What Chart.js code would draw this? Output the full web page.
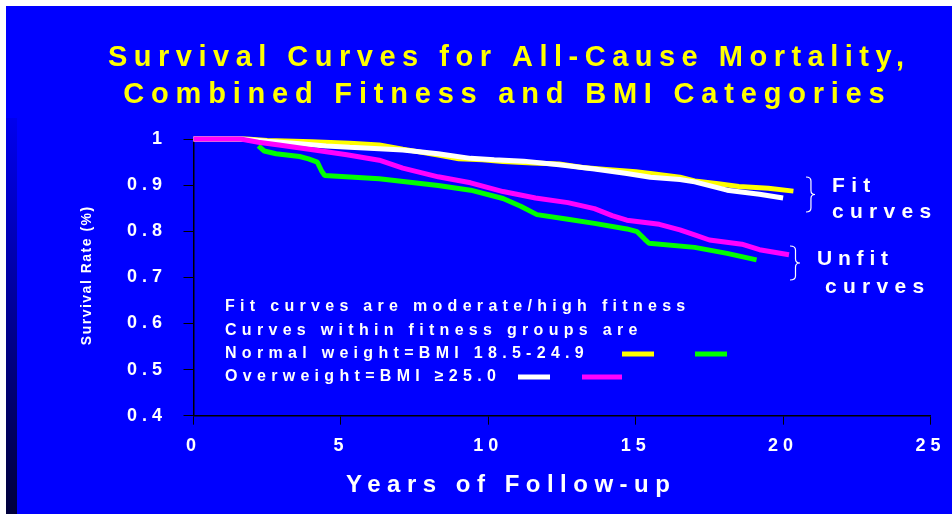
<!DOCTYPE html>
<html>
<head>
<meta charset="utf-8">
<style>
  html, body { margin: 0; padding: 0; background: #ffffff; overflow: hidden; }
  #wrap { position: relative; width: 952px; height: 514px; }
  canvas { display: block; }
</style>
<script src="https://cdn.jsdelivr.net/npm/chart.js@4/dist/chart.umd.min.js"></script>
</head>
<body>
<div id="wrap"><canvas id="chart" width="952" height="514"></canvas></div>
<script>
const FONT = '"Liberation Sans", Arial, Helvetica, sans-serif';

// Text
const titleLines = ['Survival Curves for All-Cause Mortality,', 'Combined Fitness and BMI Categories'];
const xAxisTitle = 'Years of Follow-up';
const yAxisTitle = 'Survival Rate (%)';
const legendNotes = [
  'Fit curves are moderate/high fitness',
  'Curves within fitness groups are',
  'Normal weight=BMI 18.5-24.9',
  'Overweight=BMI \u226525.0'
];
const fitGroupLabel = ['Fit', 'curves'];
const unfitGroupLabel = ['Unfit', 'curves'];

// Axis ticks
const xTicks = [0, 5, 10, 15, 20, 25];
const yTicks = [0.4, 0.5, 0.6, 0.7, 0.8, 0.9, 1];

// Fit, normal weight (yellow)
const fitNormalYears    = [0, 1.8, 2.5, 4.0, 5.3, 6.3, 7.1, 8.3, 9.0, 9.8, 10.5, 11.5, 12.4, 13.2, 14.0, 15.0, 15.5, 16.5, 17.0, 17.8, 18.5, 19.5, 20.35];
const fitNormalSurvival = [1, 1, 0.997, 0.994, 0.991, 0.987, 0.978, 0.965, 0.957, 0.955, 0.951, 0.948, 0.946, 0.938, 0.934, 0.929, 0.925, 0.917, 0.909, 0.903, 0.897, 0.893, 0.887];

// Fit, overweight (white)
const fitOverYears    = [0, 1.6, 2.5, 3.5, 4.5, 5.3, 6.3, 7.1, 8.3, 9.4, 10.2, 11.2, 12.4, 13.6, 14.7, 15.5, 16.5, 17.0, 17.5, 18.1, 19.2, 20.0];
const fitOverSurvival = [1, 1, 0.995, 0.99, 0.985, 0.982, 0.979, 0.976, 0.968, 0.958, 0.955, 0.952, 0.944, 0.935, 0.925, 0.917, 0.912, 0.907, 0.899, 0.889, 0.880, 0.872];

// Unfit, normal weight (green)
const unfitNormalYears    = [2.2, 2.4, 2.8, 3.6, 3.9, 4.2, 4.35, 4.45, 6.3, 8.3, 9.4, 10.5, 11.1, 11.65, 12.7, 13.6, 14.7, 15.05, 15.3, 15.45, 17.0, 18.1, 19.1];
const unfitNormalSurvival = [0.985, 0.974, 0.968, 0.962, 0.957, 0.950, 0.930, 0.921, 0.914, 0.899, 0.889, 0.871, 0.854, 0.836, 0.826, 0.817, 0.805, 0.799, 0.783, 0.774, 0.765, 0.752, 0.738];

// Unfit, overweight (magenta)
const unfitOverYears    = [0, 1.6, 2.2, 2.9, 4.1, 5.2, 6.3, 7.1, 8.3, 9.4, 10.5, 11.6, 12.7, 13.6, 14.2, 14.7, 15.8, 16.5, 17.0, 17.5, 18.6, 19.2, 20.2];
const unfitOverSurvival = [1, 1, 0.993, 0.987, 0.976, 0.966, 0.954, 0.937, 0.918, 0.905, 0.886, 0.872, 0.862, 0.849, 0.834, 0.824, 0.815, 0.803, 0.792, 0.781, 0.772, 0.760, 0.749];

const COLORS = { fitNormal: '#ffff00', fitOver: '#ffffff', unfitNormal: '#00ff00', unfitOver: '#ff00ff' };

const toPoints = (xs, ys) => xs.map((x, i) => ({ x: x, y: ys[i] }));

function lineSet(label, xs, ys, color) {
  return {
    label: label,
    data: toPoints(xs, ys),
    borderColor: color,
    backgroundColor: color,
    borderWidth: 5,
    pointRadius: 0,
    pointHoverRadius: 0,
    tension: 0,
    fill: false,
    clip: false,
    borderJoinStyle: 'bevel',
    borderCapStyle: 'butt'
  };
}

// First dataset is painted last (on top)
const datasets = [
  lineSet('Unfit, overweight', unfitOverYears, unfitOverSurvival, COLORS.unfitOver),
  lineSet('Fit, overweight', fitOverYears, fitOverSurvival, COLORS.fitOver),
  lineSet('Unfit, normal weight', unfitNormalYears, unfitNormalSurvival, COLORS.unfitNormal),
  lineSet('Fit, normal weight', fitNormalYears, fitNormalSurvival, COLORS.fitNormal)
];

function spacedText(ctx, text, x, y, opts) {
  const spacing = opts.spacing || 0;
  ctx.save();
  ctx.font = opts.font;
  ctx.fillStyle = opts.color;
  ctx.letterSpacing = spacing + 'px';
  ctx.textBaseline = opts.baseline || 'middle';
  ctx.textAlign = 'left';
  const w = ctx.measureText(text).width - spacing;
  let sx = x;
  if (opts.align === 'center') sx = x - w / 2;
  else if (opts.align === 'right') sx = x - w;
  ctx.fillText(text, sx, y);
  ctx.restore();
}

function brace(ctx, x, top, bottom, depth) {
  const mid = (top + bottom) / 2;
  const a = depth * 0.55;
  ctx.beginPath();
  ctx.moveTo(x, top);
  ctx.quadraticCurveTo(x + a, top, x + a, top + 4);
  ctx.lineTo(x + a, mid - 4);
  ctx.quadraticCurveTo(x + a, mid, x + depth, mid);
  ctx.quadraticCurveTo(x + a, mid, x + a, mid + 4);
  ctx.lineTo(x + a, bottom - 4);
  ctx.quadraticCurveTo(x + a, bottom, x, bottom);
  ctx.stroke();
}

const slidePlugin = {
  id: 'slide',
  beforeDraw(chart) {
    const ctx = chart.ctx;
    ctx.save();
    ctx.fillStyle = '#ffffff';
    ctx.fillRect(0, 0, chart.width, chart.height);
    ctx.fillStyle = '#0000ff';
    ctx.fillRect(6, 6, chart.width - 6, chart.height - 6);
    const g = ctx.createLinearGradient(0, 118, 0, chart.height);
    g.addColorStop(0, '#0000ee');
    g.addColorStop(1, '#00003a');
    ctx.fillStyle = g;
    ctx.fillRect(6, 118, 11, chart.height - 118);
    ctx.restore();
    // tick labels are drawn letter-spaced
    ctx.letterSpacing = '5px';
  },
  beforeDatasetsDraw(chart) {
    chart.ctx.letterSpacing = '0px';
  },
  afterDraw(chart) {
    const ctx = chart.ctx;
    ctx.letterSpacing = '0px';

    // Title
    const tFont = 'bold 29px ' + FONT;
    spacedText(ctx, titleLines[0], 506, 58, { font: tFont, color: '#ffff00', spacing: 6.5, align: 'center' });
    spacedText(ctx, titleLines[1], 504, 95, { font: tFont, color: '#ffff00', spacing: 6.8, align: 'center' });

    // Axis titles
    spacedText(ctx, xAxisTitle, 508, 485, { font: 'bold 24px ' + FONT, color: '#ffffff', spacing: 6.5, align: 'center' });
    ctx.save();
    ctx.translate(87, 276);
    ctx.rotate(-Math.PI / 2);
    spacedText(ctx, yAxisTitle, 0, 0, { font: 'bold 14px ' + FONT, color: '#ffffff', spacing: 1.5, align: 'center' });
    ctx.restore();

    // Legend notes
    const nFont = 'bold 16px ' + FONT;
    const noteY = [307, 331, 354, 377];
    legendNotes.forEach((t, i) => spacedText(ctx, t, 225, noteY[i], { font: nFont, color: '#ffffff', spacing: 5.3 }));

    // Legend swatches use the dataset colours
    const swatches = [
      { color: COLORS.fitNormal, x0: 622, x1: 654, y: 354 },
      { color: COLORS.unfitNormal, x0: 695, x1: 727, y: 354 },
      { color: COLORS.fitOver, x0: 518, x1: 550, y: 377 },
      { color: COLORS.unfitOver, x0: 582, x1: 622, y: 377 }
    ];
    ctx.save();
    swatches.forEach(s => {
      ctx.fillStyle = s.color;
      ctx.fillRect(s.x0, s.y - 2.5, s.x1 - s.x0, 5);
    });
    ctx.restore();

    // Group braces and labels
    ctx.save();
    ctx.strokeStyle = '#ffffff';
    ctx.lineWidth = 1.2;
    brace(ctx, 806, 177, 212, 9);
    brace(ctx, 790, 246, 280, 10);
    ctx.restore();
    const gFont = 'bold 21px ' + FONT;
    spacedText(ctx, fitGroupLabel[0], 832, 186, { font: gFont, color: '#ffffff', spacing: 6.3 });
    spacedText(ctx, fitGroupLabel[1], 832, 212, { font: gFont, color: '#ffffff', spacing: 6.3 });
    spacedText(ctx, unfitGroupLabel[0], 817, 259, { font: gFont, color: '#ffffff', spacing: 5.8 });
    spacedText(ctx, unfitGroupLabel[1], 825, 287, { font: gFont, color: '#ffffff', spacing: 6.3 });
  }
};

new Chart(document.getElementById('chart'), {
  type: 'line',
  data: { datasets: datasets },
  plugins: [slidePlugin],
  options: {
    responsive: false,
    devicePixelRatio: 1,
    animation: false,
    events: [],
    layout: { padding: { left: 103.5, right: 21.5, top: 139, bottom: 38.3 } },
    plugins: { legend: { display: false }, tooltip: { enabled: false }, title: { display: false } },
    scales: {
      x: {
        type: 'linear',
        min: xTicks[0],
        max: xTicks[xTicks.length - 1],
        afterBuildTicks: s => { s.ticks = xTicks.map(v => ({ value: v })); },
        afterFit: s => { s.height = 60; },
        grid: { drawOnChartArea: false, drawTicks: true, tickLength: 9, color: '#000000', lineWidth: 1 },
        border: { display: true, color: '#000000', width: 1.5 },
        ticks: {
          color: '#ffffff',
          font: { family: FONT, size: 18, weight: 'bold' },
          padding: 11,
          maxRotation: 0,
          callback: v => String(v)
        }
      },
      y: {
        type: 'linear',
        min: yTicks[0],
        max: yTicks[yTicks.length - 1],
        afterBuildTicks: s => { s.ticks = yTicks.map(v => ({ value: v })); },
        afterFit: s => { s.width = 90; },
        grid: { drawOnChartArea: false, drawTicks: true, tickLength: 10, color: '#000000', lineWidth: 1 },
        border: { display: true, color: '#000000', width: 1.5 },
        ticks: {
          color: '#ffffff',
          font: { family: FONT, size: 18, weight: 'bold' },
          padding: 16.5,
          callback: v => (v === 1 ? '1' : v.toFixed(1))
        }
      }
    }
  }
});
</script>
</body>
</html>
